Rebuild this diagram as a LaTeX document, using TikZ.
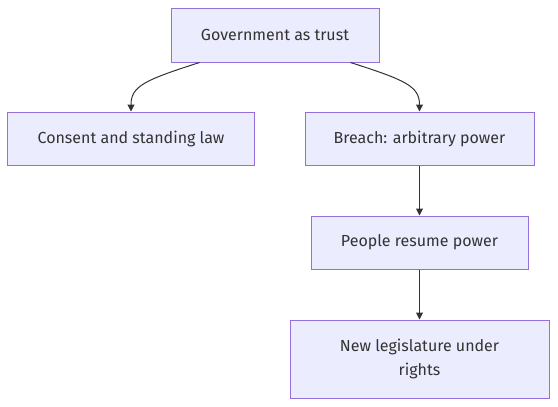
\documentclass[tikz,border=0pt]{standalone}
\usepackage{fontspec}
\setmainfont{Fira Sans}
\usetikzlibrary{arrows.meta,positioning}
\definecolor{boxfill}{HTML}{ECECFF}
\definecolor{boxline}{HTML}{9370DB}
\definecolor{inkgrey}{HTML}{333333}
\tikzset{
stagebox/.style={
    rectangle,
    fill=boxfill,
    draw=boxline,
    line width=1bp,
    text=inkgrey,
    inner sep=0pt,
    font=\fontsize{16bp}{24bp}\selectfont
},
flowedge/.style={
    draw=inkgrey,
    line width=1bp,
    -{Triangle[length=7bp,width=7bp]}
},
}
\begin{document}
\begin{tikzpicture}[x=1bp,y=-1bp]
\useasboundingbox (0,0) rectangle (558,406);
%
\node [stagebox,minimum width=208bp,minimum height=54bp] (trust) at (275,35) {Government as trust};
\node [stagebox,minimum width=246bp,minimum height=53bp] (consent) at (131,138.5) {Consent and standing law};
\node [stagebox,minimum width=229bp,minimum height=53bp] (breach) at (419.5,138.5) {Breach: arbitrary power};
\node [stagebox,minimum width=217bp,minimum height=53bp] (resume) at (419.5,242.5) {People resume power};
\node [stagebox,minimum width=259bp,minimum height=78bp,align=center] (newleg) at (419.5,359) {New legislature under\\rights};
%
\draw [flowedge] ([xshift=29bp]trust.south west) .. controls (145,80) and (131,86) .. (consent.north);
\draw [flowedge] ([xshift=-29bp]trust.south east) .. controls (405,80) and (419.5,86) .. (breach.north);
\draw [flowedge] (breach) -- (resume);
\draw [flowedge] (resume) -- (newleg);
%
\end{tikzpicture}
\end{document}
